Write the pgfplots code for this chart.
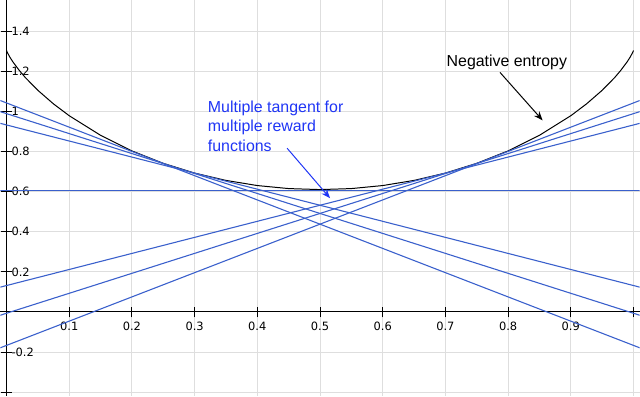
\documentclass[border=0pt]{standalone}
\usepackage{pgfplots}
\pgfplotsset{compat=1.18}
\usepackage{fontspec}
\setmainfont{Liberation Sans}
\newfontfamily\tickfont{DejaVu Sans}
\usetikzlibrary{arrows.meta}
\definecolor{tanblue}{HTML}{3A60CC}
\definecolor{txtblue}{HTML}{1F35F5}
\begin{document}
\begin{tikzpicture}
\begin{axis}[
  width=640bp, height=396bp, scale only axis,
  xmin=-0.0096, xmax=1.0096, ymin=-0.418, ymax=1.552,
  axis lines=middle,
  axis line style={-, black, line width=1pt},
  xtick={0.1,0.2,0.3,0.4,0.5,0.6,0.7,0.8,0.9,1.0},
  xticklabels={0.1,0.2,0.3,0.4,0.5,0.6,0.7,0.8,0.9,},
  ytick={-0.4,-0.2,0,0.2,0.4,0.6,0.8,1.0,1.2,1.4},
  yticklabels={,-0.2,0,0.2,0.4,0.6,0.8,1,1.2,1.4},
  tick align=center,
  major tick length=11bp,
  tick style={black, line width=1pt},
  xticklabel style={font=\tickfont\fontsize{11.5}{13}\selectfont, anchor=north, yshift=-1bp},
  yticklabel style={font=\tickfont\fontsize{11.5}{13}\selectfont, anchor=west, xshift=7bp},
  /pgf/number format/assume math mode=true,
  grid=major,
  grid style={color=black!13, line width=1pt},
  clip=true,
]
% negative entropy curve
\addplot[black, line width=1pt] coordinates {
(0,1.303) (0.001,1.2951) (0.005,1.2715) (0.01,1.247) (0.02,1.205) (0.03,1.168)
(0.05,1.1045) (0.075,1.0366) (0.1,0.9779) (0.15,0.8803) (0.2,0.8026) (0.25,0.7407)
(0.3,0.6921) (0.35,0.6556) (0.4,0.6300) (0.45,0.6149) (0.5,0.6099)
(0.55,0.6149) (0.6,0.6300) (0.65,0.6556) (0.7,0.6921) (0.75,0.7407) (0.8,0.8026)
(0.85,0.8803) (0.9,0.9779) (0.925,1.0366) (0.95,1.1045) (0.97,1.168) (0.98,1.205)
(0.99,1.247) (0.995,1.2715) (0.999,1.2951) (1,1.303)
};
% tangent lines
\addplot[tanblue, line width=1.1pt] coordinates {(-0.02,0.607) (1.02,0.607)};
\addplot[tanblue, line width=1.1pt] coordinates {(-0.02,1.0658) (1.02,-0.1906)};
\addplot[tanblue, line width=1.1pt] coordinates {(-0.02,1.0082) (1.02,-0.0262)};
\addplot[tanblue, line width=1.1pt] coordinates {(-0.02,0.9479) (1.02,0.1158)};
\addplot[tanblue, line width=1.1pt] coordinates {(-0.02,-0.1906) (1.02,1.0658)};
\addplot[tanblue, line width=1.1pt] coordinates {(-0.02,-0.0262) (1.02,1.0082)};
\addplot[tanblue, line width=1.1pt] coordinates {(-0.02,0.1158) (1.02,0.9479)};
% annotations
\node[font=\fontsize{16}{19}\selectfont, inner sep=0pt] at (axis cs:0.798,1.244) {Negative entropy};
\draw[black, line width=1pt, -{Stealth[length=9bp,width=7bp]}] (axis cs:0.787,1.194) -- (axis cs:0.855,0.955);
\node[font=\fontsize{16}{19.5}\selectfont, text=txtblue, align=left, anchor=north west, inner sep=0pt] at (axis cs:0.321,1.052) {Multiple tangent for\\multiple reward\\functions};
\draw[txtblue, line width=1pt, -{Stealth[length=9bp,width=7bp]}] (axis cs:0.4475,0.816) -- (axis cs:0.516,0.567);
\end{axis}
\end{tikzpicture}
\end{document}
